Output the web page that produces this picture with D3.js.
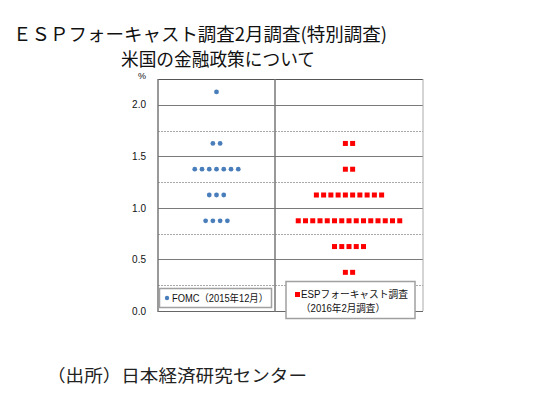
<!DOCTYPE html>
<html><head><meta charset="utf-8">
<script src="https://cdn.jsdelivr.net/npm/d3@7"></script>
<style>body{margin:0;background:#fff}svg{display:block}</style>
</head><body>
<script>
// ---- data ----
const groups = ["FOMC", "ESP"];
const fomcRates = [2.125, 1.625, 1.375, 1.125, 0.875];
const fomcCounts = [1, 2, 7, 3, 4];
const espRates = [1.625, 1.375, 1.125, 0.875, 0.625, 0.375];
const espCounts = [2, 2, 10, 15, 5, 2];
const yTicks = [0.0, 0.5, 1.0, 1.5, 2.0];
const solidGrid = [0.5, 1.0, 1.5, 2.0];
const dashedGrid = [0.25, 0.75, 1.25, 1.75];
const titleLines = ["ＥＳＰフォーキャスト調査2月調査(特別調査)", "米国の金融政策について"];
const sourceText = "（出所）日本経済研究センター";
const legendFomc = "FOMC（2015年12月）";
const legendEsp = ["ESPフォーキャスト調査", "（2016年2月調査）"];

const W = 559, H = 398;
const pL = 158, pM = 275, pR = 423, pT = 79, pB = 311;
const svg = d3.select("body").append("svg").attr("width", W).attr("height", H);
const jp = "'Noto Sans CJK JP', sans-serif";
const latin = "'Liberation Sans', Arial, 'Noto Sans CJK JP', sans-serif";

const y = d3.scaleLinear().domain([0, 2.25]).range([pB, pT]);
const x = d3.scaleOrdinal().domain(groups).range([[pL, pM], [pM, pR]]);
const step = 7.25;
const off = d3.scaleLinear().domain([0, 1]).range([0, step]);

// titles
svg.append("text").attr("x", 13).attr("y", 33).attr("dominant-baseline", "central")
  .attr("font-family", jp).attr("font-size", 18).attr("fill", "#111")
  .attr("textLength", 374).attr("lengthAdjust", "spacingAndGlyphs").text(titleLines[0]);
svg.append("text").attr("x", 121).attr("y", 58).attr("dominant-baseline", "central")
  .attr("font-family", jp).attr("font-size", 18).attr("fill", "#111")
  .attr("textLength", 194).attr("lengthAdjust", "spacingAndGlyphs").text(titleLines[1]);
svg.append("text").attr("x", 47).attr("y", 374).attr("dominant-baseline", "central")
  .attr("font-family", jp).attr("font-size", 17).attr("fill", "#222")
  .attr("textLength", 260).attr("lengthAdjust", "spacingAndGlyphs").text(sourceText);

// grid
svg.append("g").selectAll("line").data(dashedGrid).join("line")
  .attr("x1", pL).attr("x2", pR).attr("y1", d => Math.round(y(d)) + 0.5).attr("y2", d => Math.round(y(d)) + 0.5)
  .attr("stroke", "#a8a8a8").attr("stroke-dasharray", "2,1");
svg.append("g").selectAll("line").data(solidGrid).join("line")
  .attr("x1", pL).attr("x2", pR).attr("y1", d => Math.round(y(d)) + 0.5).attr("y2", d => Math.round(y(d)) + 0.5)
  .attr("stroke", "#7a7a7a");

// frame
svg.append("line").attr("x1", pL).attr("x2", pR).attr("y1", pT + 0.5).attr("y2", pT + 0.5).attr("stroke", "#555");
svg.append("line").attr("x1", pL).attr("x2", pR).attr("y1", pB + 0.5).attr("y2", pB + 0.5).attr("stroke", "#666");
svg.append("line").attr("x1", pR).attr("x2", pR).attr("y1", pT).attr("y2", pB).attr("stroke", "#aaa");
svg.append("line").attr("x1", x("ESP")[0]).attr("x2", x("ESP")[0]).attr("y1", pT).attr("y2", pB + 1).attr("stroke", "#777").attr("stroke-width", 1.5);
svg.append("line").attr("x1", pL).attr("x2", pL).attr("y1", pT).attr("y2", pB + 1).attr("stroke", "#777").attr("stroke-width", 1.5);

// axis
const ax = svg.append("g").attr("transform", `translate(${pL},0)`)
  .call(d3.axisLeft(y).tickValues(yTicks).tickFormat(d3.format(".1f")).tickSize(0).tickPadding(12));
ax.select(".domain").remove();
ax.selectAll("text").attr("font-family", latin).attr("font-size", 10).attr("fill", "#111");
svg.append("text").attr("x", 142).attr("y", 79).attr("text-anchor", "middle")
  .attr("font-family", latin).attr("font-size", 9).attr("fill", "#111").text("%");

// dots
const cx = g => (x(g)[0] + x(g)[1]) / 2;
fomcRates.forEach((r, k) => {
  const n = fomcCounts[k];
  svg.append("g").selectAll("circle").data(d3.range(n)).join("circle")
    .attr("cx", i => cx("FOMC") + off(i - (n - 1) / 2)).attr("cy", y(r)).attr("r", 2.4)
    .attr("fill", "#4a7ebb");
});
const sq = 5;
espRates.forEach((r, k) => {
  const n = espCounts[k];
  svg.append("g").selectAll("rect").data(d3.range(n)).join("rect")
    .attr("x", i => cx("ESP") + off(i - (n - 1) / 2) - sq / 2).attr("y", y(r) - sq / 2)
    .attr("width", sq).attr("height", sq).attr("fill", "#ff0000");
});

// legends
svg.append("rect").attr("x", 159.5).attr("y", 288.5).attr("width", 112).attr("height", 19)
  .attr("fill", "#fff").attr("stroke", "#a0a0a0").attr("stroke-width", 1.5);
svg.append("circle").attr("cx", 167).attr("cy", 298).attr("r", 2.2).attr("fill", "#4a7ebb");
svg.append("text").attr("x", 172).attr("y", 298).attr("dominant-baseline", "central")
  .attr("font-family", latin).attr("font-size", 10).attr("fill", "#111")
  .attr("textLength", 96).attr("lengthAdjust", "spacingAndGlyphs").text(legendFomc);

svg.append("rect").attr("x", 286).attr("y", 281.5).attr("width", 129).attr("height", 37)
  .attr("fill", "#fff").attr("stroke", "#a0a0a0").attr("stroke-width", 1.5);
svg.append("rect").attr("x", 295).attr("y", 292).attr("width", 5).attr("height", 5).attr("fill", "#ff0000");
svg.append("text").attr("x", 301).attr("y", 294.5).attr("dominant-baseline", "central")
  .attr("font-family", latin).attr("font-size", 10).attr("fill", "#111")
  .attr("textLength", 107).attr("lengthAdjust", "spacingAndGlyphs").text(legendEsp[0]);
svg.append("text").attr("x", 301).attr("y", 308.5).attr("dominant-baseline", "central")
  .attr("font-family", latin).attr("font-size", 10).attr("fill", "#111")
  .attr("textLength", 84).attr("lengthAdjust", "spacingAndGlyphs").text(legendEsp[1]);
</script>
</body></html>
